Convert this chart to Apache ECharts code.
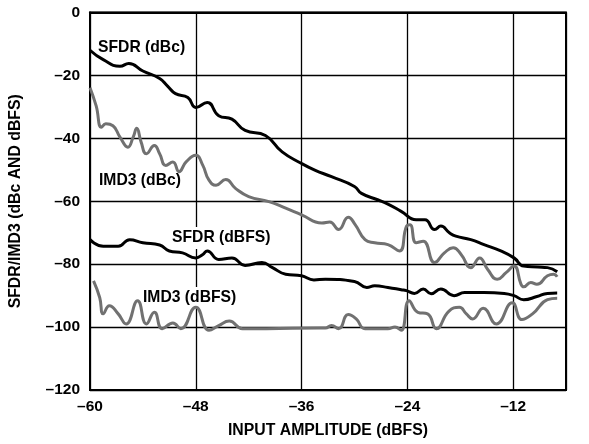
<!DOCTYPE html>
<html>
<head>
<meta charset="utf-8">
<script src="https://cdn.jsdelivr.net/npm/echarts/dist/echarts.min.js"></script>
<style>
  html, body { margin: 0; padding: 0; background: #fff; }
  #chart { width: 589px; height: 444px; }
</style>
</head>
<body>
<div id="chart"></div>
<script>
// x ticks / y ticks
let xTicks = [-60, -48, -36, -24, -12];
let yTicks = [0, -20, -40, -60, -80, -100, -120];

// SFDR (dBc)
let sfdrDbcX = [-60, -58.5, -56.6, -55.6, -54.0, -52.1, -51.2, -50.3, -48.9, -48.0, -46.7, -45.4, -43.9, -42.4, -40.1, -38.2, -36.0, -34.5, -32.6, -30.0, -29.2, -27.3, -26.2, -24.7, -23.0, -22.0, -20.9, -20.2, -19.2, -18.5, -16.8, -15.3, -13.4, -11.9, -10.8, -9.2, -8.1, -7.0];
let sfdrDbcY = [-12.0, -15.0, -17.1, -16.2, -18.6, -21.0, -23.4, -25.8, -27.0, -30.2, -28.6, -32.8, -33.9, -37.5, -39.1, -44.3, -48.0, -50.1, -52.2, -55.3, -57.5, -59.6, -60.9, -63.2, -65.9, -65.9, -69.0, -67.9, -70.1, -71.1, -72.2, -73.8, -75.8, -78.0, -80.6, -80.9, -81.1, -82.4];

// IMD3 (dBc)
let imd3DbcX = [-60, -59.3, -58.7, -58.2, -57.4, -56.6, -55.7, -55.1, -54.7, -54.2, -53.6, -52.7, -52.1, -51.4, -50.6, -49.9, -49.1, -48.0, -47.2, -46.5, -45.7, -44.6, -43.5, -42.0, -39.7, -37.8, -36.0, -33.7, -32.8, -31.8, -30.7, -29.9, -28.8, -27.7, -26.2, -24.9, -24.1, -23.7, -23.0, -22.2, -20.9, -19.8, -18.8, -17.9, -16.8, -15.8, -14.9, -13.8, -12.8, -11.9, -11.1, -10.8, -10.0, -9.3, -8.1, -7.4, -7.0];
let imd3DbcY = [-23.9, -29.7, -36.5, -35.4, -36.0, -39.6, -42.8, -39.6, -36.8, -41.2, -44.9, -42.3, -44.9, -48.6, -47.5, -50.6, -47.5, -45.4, -48.6, -53.3, -54.9, -53.1, -55.9, -58.5, -60.1, -62.2, -64.3, -66.9, -66.6, -69.0, -65.1, -67.5, -72.2, -73.2, -73.8, -75.8, -68.0, -67.5, -73.2, -72.7, -79.5, -76.4, -74.8, -76.9, -81.1, -78.0, -81.6, -84.8, -82.7, -80.6, -86.4, -87.2, -85.8, -86.4, -83.7, -83.2, -84.0];

// SFDR (dBFS)
let sfdrDbfsX = [-60, -58.5, -56.8, -55.5, -54.0, -52.1, -51.0, -49.5, -48.0, -47.2, -46.7, -45.4, -43.9, -42.4, -40.5, -39.3, -37.8, -36.0, -34.6, -33.3, -30.0, -28.6, -27.7, -26.2, -24.7, -24.1, -23.2, -22.2, -21.3, -20.2, -18.7, -17.5, -15.3, -13.0, -11.9, -10.8, -9.3, -8.1, -7.0];
let sfdrDbfsY = [-72.2, -74.3, -74.3, -72.2, -73.2, -73.9, -75.8, -76.4, -78.0, -76.9, -75.8, -78.5, -78.0, -80.4, -79.5, -81.1, -83.2, -83.7, -85.0, -84.8, -85.5, -87.4, -86.9, -87.4, -88.1, -88.4, -89.3, -87.9, -89.4, -87.9, -90.0, -89.0, -89.0, -89.3, -90.0, -91.3, -90.3, -89.3, -89.2];

// IMD3 (dBFS)
let imd3DbfsX = [-59.6, -58.9, -58.5, -57.8, -56.8, -55.9, -54.6, -53.6, -52.7, -51.8, -50.6, -49.7, -48.0, -46.5, -45.4, -44.2, -42.7, -40.0, -34.0, -33.3, -32.6, -31.8, -30.7, -29.8, -28.8, -26.2, -25.4, -24.7, -23.8, -22.8, -21.7, -20.7, -19.3, -18.1, -17.3, -16.6, -15.4, -13.9, -12.1, -11.0, -9.8, -8.1, -7.0];
let imd3DbfsY = [-85.3, -90.6, -95.8, -93.2, -95.8, -99.0, -91.6, -99.0, -95.3, -100.5, -98.7, -100.5, -93.7, -101.0, -99.5, -98.1, -100.5, -100.5, -100.3, -100.3, -99.5, -100.5, -96.0, -97.4, -100.5, -100.5, -100.0, -101.0, -91.6, -95.3, -95.8, -100.5, -95.0, -93.7, -95.8, -97.4, -94.0, -99.0, -92.3, -97.6, -95.8, -91.3, -90.8];

let seriesNames = ["SFDR (dBc)", "IMD3 (dBc)", "SFDR (dBFS)", "IMD3 (dBFS)"];

function pairs(xs, ys) {
  return xs.map((x, i) => [x, ys[i]]);
}
function dash(v) {
  return String(v).replace("-", "\u2013");
}

let font = "Liberation Sans, Arial, Helvetica, sans-serif";
let black = "#000";
let gray = "#717171";

let labelStyle = {
  fontFamily: font,
  fontWeight: "bold",
  fontSize: 15.7,
  fill: "#000",
  backgroundColor: "#fff",
  padding: [3, 4]
};

let myChart = echarts.init(document.getElementById("chart"), null, { renderer: "canvas" });

let option = {
  animation: false,
  backgroundColor: "#fff",
  grid: {
    left: 87,
    right: 23,
    top: 12.5,
    bottom: 51,
    show: true,
    borderColor: black,
    borderWidth: 2
  },
  xAxis: {
    type: "value",
    min: -60,
    max: -6,
    interval: 12,
    name: "INPUT AMPLITUDE (dBFS)",
    nameLocation: "middle",
    nameGap: 33,
    nameTextStyle: { fontFamily: font, fontWeight: "bold", fontSize: 15.8, color: black },
    axisLine: { lineStyle: { color: black, width: 2 } },
    axisTick: { show: false },
    axisLabel: {
      margin: 9,
      fontFamily: font,
      fontWeight: "bold",
      fontSize: 15.5,
      color: black,
      formatter: (v) => (xTicks.indexOf(v) >= 0 ? dash(v) : "")
    },
    splitLine: { show: true, lineStyle: { color: black, width: 1.3 } }
  },
  yAxis: {
    type: "value",
    min: -120,
    max: 0,
    interval: 20,
    name: "SFDR/IMD3 (dBc AND dBFS)",
    nameLocation: "middle",
    nameGap: 66,
    nameTextStyle: { fontFamily: font, fontWeight: "bold", fontSize: 15.8, color: black },
    axisLine: { lineStyle: { color: black, width: 2 } },
    axisTick: { show: false },
    axisLabel: {
      margin: 10,
      fontFamily: font,
      fontWeight: "bold",
      fontSize: 15.5,
      color: black,
      formatter: (v) => (yTicks.indexOf(v) >= 0 ? dash(v) : "")
    },
    splitLine: { show: true, lineStyle: { color: black, width: 1.3 } }
  },
  graphic: [
    { type: "text", left: 94, top: 37, z: 1, style: Object.assign({ text: seriesNames[0] }, labelStyle) },
    { type: "text", left: 95, top: 170, z: 1, style: Object.assign({ text: seriesNames[1] }, labelStyle) },
    { type: "text", left: 168, top: 227, z: 1, style: Object.assign({ text: seriesNames[2] }, labelStyle) },
    { type: "text", left: 139, top: 287, z: 1, style: Object.assign({ text: seriesNames[3] }, labelStyle) }
  ],
  series: [
    {
      name: seriesNames[1],
      type: "line",
      data: pairs(imd3DbcX, imd3DbcY),
      smooth: 0.5,
      showSymbol: false,
      z: 3,
      lineStyle: { color: gray, width: 3 }
    },
    {
      name: seriesNames[3],
      type: "line",
      data: pairs(imd3DbfsX, imd3DbfsY),
      smooth: 0.5,
      showSymbol: false,
      z: 3,
      lineStyle: { color: gray, width: 3 }
    },
    {
      name: seriesNames[0],
      type: "line",
      data: pairs(sfdrDbcX, sfdrDbcY),
      smooth: 0.5,
      showSymbol: false,
      z: 4,
      lineStyle: { color: black, width: 3 }
    },
    {
      name: seriesNames[2],
      type: "line",
      data: pairs(sfdrDbfsX, sfdrDbfsY),
      smooth: 0.5,
      showSymbol: false,
      z: 4,
      lineStyle: { color: black, width: 3 }
    }
  ]
};

myChart.setOption(option);
</script>
</body>
</html>
